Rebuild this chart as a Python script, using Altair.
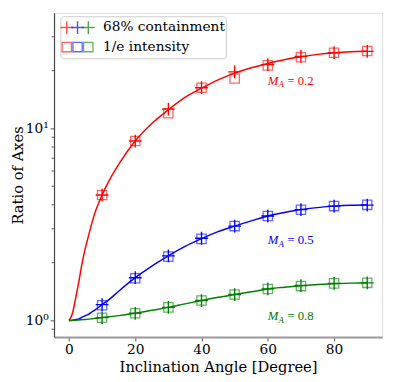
import altair as alt
import pandas as pd

# ---------------- data ----------------
curve_x = [0, 1, 2, 3, 4, 5, 6, 7, 8, 10, 12, 15, 20, 25, 30, 35, 40, 45, 50, 55, 60, 65, 70, 75, 80, 85, 90]
curve_02 = [1.0, 1.08, 1.30, 1.60, 2.00, 2.40, 2.80, 3.25, 3.70, 4.50, 5.30, 6.50, 8.60, 10.6, 12.5, 14.5, 16.2, 17.9, 19.4, 20.7, 21.8, 22.8, 23.6, 24.3, 24.8, 25.1, 25.2]
curve_05 = [1.0, 1.003, 1.01, 1.02, 1.04, 1.06, 1.08, 1.11, 1.14, 1.21, 1.28, 1.42, 1.67, 1.92, 2.17, 2.43, 2.67, 2.90, 3.10, 3.30, 3.50, 3.65, 3.78, 3.87, 3.94, 3.98, 3.99]
curve_08 = [1.0, 1.001, 1.003, 1.006, 1.009, 1.012, 1.016, 1.021, 1.026, 1.035, 1.045, 1.06, 1.09, 1.13, 1.17, 1.22, 1.27, 1.32, 1.365, 1.41, 1.46, 1.49, 1.515, 1.54, 1.555, 1.565, 1.57]

pt_x = [10, 20, 30, 40, 50, 60, 70, 80, 90]
cross_02 = [4.5, 8.6, 12.6, 16.3, 19.7, 21.5, 23.7, 24.8, 25.2]
square_02 = [4.5, 8.6, 12.0, 16.3, 18.2, 21.3, 23.5, 24.8, 25.3]
cross_05 = [1.21, 1.67, 2.17, 2.68, 3.10, 3.50, 3.78, 3.94, 3.99]
square_05 = [1.20, 1.66, 2.15, 2.66, 3.10, 3.50, 3.77, 3.94, 4.00]
cross_08 = [1.035, 1.09, 1.17, 1.27, 1.365, 1.46, 1.52, 1.56, 1.57]
square_08 = [1.033, 1.09, 1.17, 1.27, 1.365, 1.46, 1.51, 1.56, 1.57]

series = ["0.2", "0.5", "0.8"]
colors = ["#ff0000", "#0000ff", "#008000"]

label_x = [60, 60, 60]
label_y = [16.9, 2.50, 1.0]

x_ticks = [0, 20, 40, 60, 80]
y_major = [1, 10]
y_minor = [0.9, 2, 3, 4, 5, 6, 7, 8, 9, 20, 30]

legend_labels = ["68% containment", "1/e intensity"]

# ---------------- tables ----------------
curves = pd.DataFrame(
    [{"x": x, "y": y, "s": s} for s, ys in zip(series, [curve_02, curve_05, curve_08]) for x, y in zip(curve_x, ys)]
)
crosses = pd.DataFrame(
    [{"x": x, "y": y, "s": s} for s, ys in zip(series, [cross_02, cross_05, cross_08]) for x, y in zip(pt_x, ys)]
)
squares = pd.DataFrame(
    [{"x": x, "y": y, "s": s} for s, ys in zip(series, [square_02, square_05, square_08]) for x, y in zip(pt_x, ys)]
)
labels = pd.DataFrame({"x": label_x, "y": label_y, "s": series, "rest": ["= " + s for s in series]})
minor = pd.DataFrame({"y": y_minor})

SERIF = "DejaVu Serif"
W, H = 335, 331

xs = alt.Scale(domain=[-4.5, 94.5], nice=False, zero=False)
ys = alt.Scale(type="log", domain=[0.82, 40], nice=False)
col = alt.Color("s:N", scale=alt.Scale(domain=series, range=colors), legend=None)

X = alt.X("x:Q", scale=xs, axis=alt.Axis(values=x_ticks, title="Inclination Angle [Degree]",
                                          labelFont=SERIF, labelFontSize=14, titleFont=SERIF,
                                          titleFontSize=15, titleFontWeight="normal", grid=False,
                                          tickSize=4, labelPadding=2, titlePadding=3,
                                          domainColor="#9a9a9a", domainWidth=2, tickColor="#555",
                                          labelColor="black", titleColor="black", labelFlush=False))
Y = alt.Y("y:Q", scale=ys, axis=alt.Axis(values=y_major, title="Ratio of Axes",
                                          labelExpr="datum.value == 1 ? '10⁰' : '10¹'",
                                          labelFont=SERIF, labelFontSize=14, titleFont=SERIF,
                                          titleFontSize=15, titleFontWeight="normal", grid=False,
                                          tickSize=4, labelPadding=2, titlePadding=0,
                                          domainColor="#444", domainWidth=1.2, tickColor="#555",
                                          labelColor="black", titleColor="black"))

lines = alt.Chart(curves).mark_line(strokeWidth=1.5, interpolate="monotone").encode(
    x=X, y=Y, color=col, detail="s:N")

sq = alt.Chart(squares).mark_point(shape="square", filled=False, size=90, strokeWidth=1.3, opacity=0.6).encode(
    x="x:Q", y="y:Q", color=col)

PLUS = "M-1,0L1,0M0,-1L0,1"
cr = alt.Chart(crosses).mark_point(shape=PLUS, filled=False, size=170, strokeWidth=1.4, opacity=1).encode(
    x="x:Q", y="y:Q", color=col)

minor_ticks = alt.Chart(minor).mark_rule(color="#555", strokeWidth=1).encode(
    y="y:Q", x=alt.value(-2.5), x2=alt.value(0))

m_txt = alt.Chart(labels).mark_text(font="Liberation Serif", fontStyle="italic", fontSize=13,
                                    align="left", baseline="alphabetic").encode(
    x="x:Q", y="y:Q", color=col, text=alt.value("M"))
a_txt = alt.Chart(labels).mark_text(font="Liberation Serif", fontStyle="italic", fontSize=9,
                                    align="left", baseline="alphabetic", dx=11, dy=2.5).encode(
    x="x:Q", y="y:Q", color=col, text=alt.value("A"))
r_txt = alt.Chart(labels).mark_text(font="Liberation Serif", fontSize=13,
                                    align="left", baseline="alphabetic", dx=20).encode(
    x="x:Q", y="y:Q", color=col, text="rest:N")

# ---------------- legend (pixel positions in the view) ----------------
leg_box = alt.Chart(pd.DataFrame({"a": [0]})).mark_rect(
    fill="white", fillOpacity=0.8, stroke="#cccccc", strokeWidth=1, cornerRadius=3).encode(
    x=alt.value(7), x2=alt.value(176), y=alt.value(4), y2=alt.value(47))

leg_pts = pd.DataFrame({"s": series, "px": [13, 24, 35]})
leg_cross = alt.Chart(leg_pts).mark_point(shape=PLUS, filled=False, size=170, strokeWidth=1.4).encode(
    x=alt.X("px:Q", scale=None), y=alt.value(15), color=col)
leg_sq = alt.Chart(leg_pts).mark_point(shape="square", filled=False, size=90, strokeWidth=1.3, opacity=0.6).encode(
    x=alt.X("px:Q", scale=None), y=alt.value(35), color=col)
leg_text = alt.Chart(pd.DataFrame({"t": legend_labels, "py": [15, 35]})).mark_text(
    font=SERIF, fontSize=14, align="left", baseline="middle", color="black").encode(
    x=alt.value(50), y=alt.Y("py:Q", scale=None), text="t:N")

chart = alt.layer(
    minor_ticks, lines, sq, cr, m_txt, a_txt, r_txt, leg_box, leg_cross, leg_sq, leg_text
).properties(
    width=W, height=H, autosize=alt.AutoSizeParams(type="none"),
    padding={"left": 47, "top": 1, "right": 7, "bottom": 42}
).configure_view(stroke="#333", strokeWidth=1.2).configure(background="white")

chart.save("out.html", embed_options={"renderer": "svg", "actions": False})
